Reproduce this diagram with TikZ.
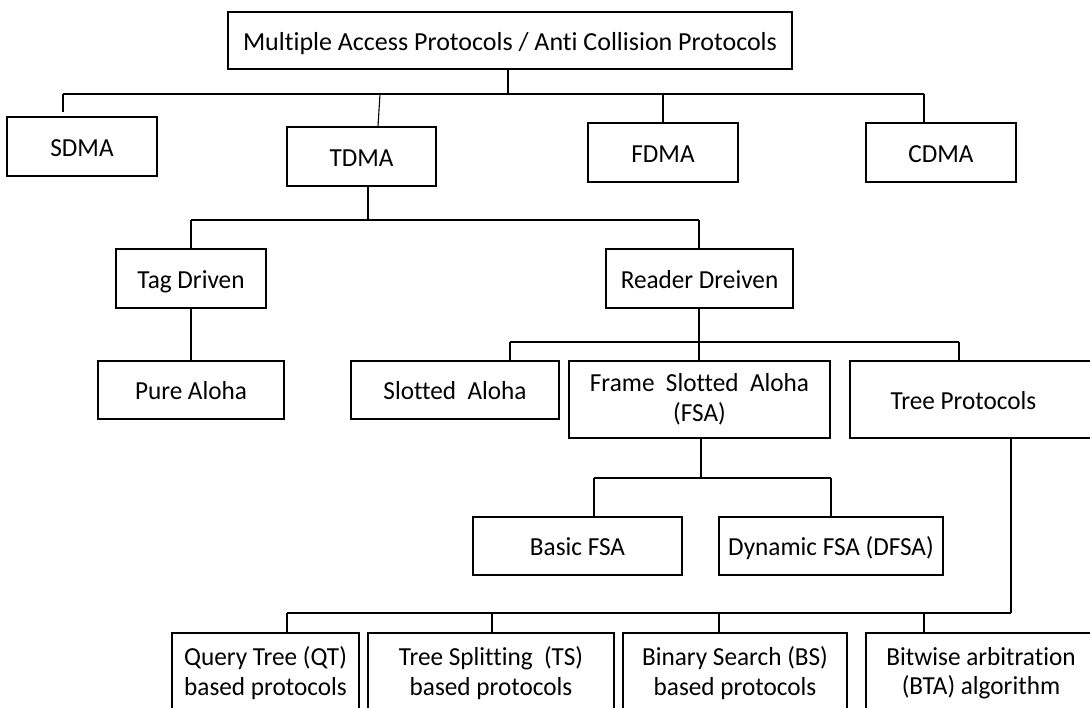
\documentclass[tikz,border=0pt]{standalone}
\usepackage{fontspec}
\setmainfont[Ligatures=NoCommon]{Carlito}
\newfontfamily\narrowfont[Ligatures=NoCommon, FakeStretch=0.97]{Carlito}
\newcommand\fs{\narrowfont\fontsize{26}{29.5}\selectfont}
\newcommand\fsroot{\fontsize{26}{29.5}\selectfont}
\begin{document}
\begin{tikzpicture}[x=1pt,y=-1pt,
  box/.style={draw, line width=1.1pt, inner sep=0pt, align=center, font=\fs},
  onebox/.style={box, text height=19.5pt, text depth=0pt},
  conn/.style={line width=1.1pt}]
\useasboundingbox (0,0) rectangle (1090,708);
\clip (0,0) rectangle (1090,708);
% level 0
\node[onebox, font=\fsroot, minimum width=564pt, minimum height=57pt] (root) at (510,40.5) {Multiple Access Protocols / Anti Collision Protocols};
% level 1
\node[onebox, minimum width=150pt, minimum height=59pt] (sdma) at (82,146.5) {SDMA};
\node[onebox, minimum width=149pt, minimum height=59pt] (tdma) at (361.5,156.5) {TDMA};
\node[onebox, minimum width=150pt, minimum height=59pt] (fdma) at (663,152.5) {FDMA};
\node[onebox, minimum width=150pt, minimum height=59pt] (cdma) at (941,152.5) {CDMA};
% level 2
\node[onebox, minimum width=150pt, minimum height=59pt] (tag) at (191,278.5) {Tag Driven};
\node[onebox, minimum width=187pt, minimum height=59pt] (reader) at (699.5,278.5) {Reader Dreiven};
% level 3
\node[onebox, minimum width=186pt, minimum height=58pt] (pure) at (191,390) {Pure Aloha};
\node[onebox, minimum width=208pt, minimum height=58pt] (slotted) at (455,390) {Slotted\ \ Aloha};
\node[box, minimum width=261pt, minimum height=77pt] (fsa) at (699.5,399.5) {Frame\ \ Slotted\ \ Aloha\\(FSA)};
\node[onebox, minimum width=250pt, minimum height=77pt] (tree) at (975,399.5) {Tree Protocols\hspace*{23pt}};
% level 4
\node[onebox, minimum width=209pt, minimum height=58pt] (basic) at (577.5,546) {Basic FSA};
\node[onebox, minimum width=224pt, minimum height=58pt] (dfsa) at (831,546) {Dynamic FSA (DFSA)};
% level 5
\node[box, minimum width=187pt, minimum height=80pt] (qt) at (265.5,673) {Query Tree (QT)\\based protocols};
\node[box, minimum width=246pt, minimum height=80pt] (ts) at (491,673) {Tree Splitting\ \ (TS)\\based protocols};
\node[box, minimum width=224pt, minimum height=80pt] (bs) at (735,673) {Binary Search (BS)\\based protocols};
\node[box, minimum width=230pt, minimum height=80pt] (bta) at (981,673) {Bitwise arbitration\\(BTA) algorithm};
% connectors level 0 -> 1
\coordinate (b0) at (508,94);
\draw[conn] (root.south -| b0) -- (b0);
\draw[conn] (63,94) -- (924,94);
\draw[conn, shorten >=4pt] (63,94) -- (63,0 |- sdma.north);
\draw[conn] (380,94) -- (378,0 |- tdma.north);
\draw[conn] (663,94) -- (fdma.north);
\draw[conn] (924,94) -- (924,0 |- cdma.north);
% TDMA -> tag / reader
\coordinate (b1) at (368,220);
\draw[conn] (tdma.south -| b1) -- (b1);
\draw[conn] (191,220) -- (699,220);
\draw[conn] (191,220) -- (tag.north);
\draw[conn] (699,220) -- (699,0 |- reader.north);
\draw[conn] (tag.south) -- (pure.north);
% reader -> slotted / fsa / tree
\coordinate (b2) at (699,342);
\draw[conn] (reader.south -| b2) -- (b2);
\draw[conn] (510,342) -- (959,342);
\draw[conn] (510,342) -- (510,0 |- slotted.north);
\draw[conn] (699,342) -- (699,0 |- fsa.north);
\draw[conn] (959,342) -- (959,0 |- tree.north);
% fsa -> basic / dfsa
\coordinate (b3) at (701,478);
\draw[conn] (fsa.south -| b3) -- (b3);
\draw[conn] (594,478) -- (831,478);
\draw[conn] (594,478) -- (594,0 |- basic.north);
\draw[conn] (831,478) -- (dfsa.north);
% tree -> bottom row
\coordinate (b4) at (1011,613);
\draw[conn] (tree.south -| b4) -- (b4);
\draw[conn] (287,613) -- (1011,613);
\draw[conn] (287,613) -- (287,0 |- qt.north);
\draw[conn] (492,613) -- (492,0 |- ts.north);
\draw[conn] (719,613) -- (719,0 |- bs.north);
\draw[conn] (924,613) -- (924,0 |- bta.north);
\end{tikzpicture}
\end{document}
